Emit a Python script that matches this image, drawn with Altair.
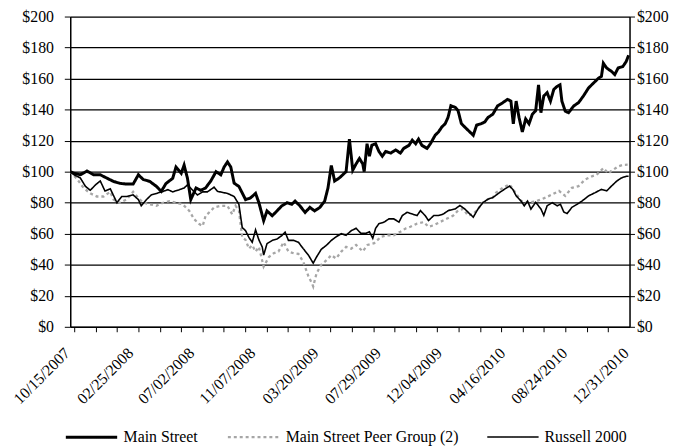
import altair as alt
import pandas as pd

START = "2007-10-15"
series_names = ["Main Street", "Main Street Peer Group (2)", "Russell 2000"]
series_colors = ["#000000", "#a6a6a6", "#000000"]

# day offsets from 10/15/2007 and cumulative value ($100 invested)
ms_day = [0, 8, 21, 35, 49, 63, 77, 91, 104, 118, 132, 143, 153, 167, 181, 191, 201, 215, 222, 233,
          239, 246, 253, 264, 274, 284, 295, 306, 316, 323, 330, 337, 344, 354, 361, 368, 378, 389, 396, 406,
          413, 424, 434, 444, 455, 465, 472, 482, 493, 503, 513, 524, 534, 541, 548, 555, 565, 572, 579, 586,
          593, 600, 607, 614, 617, 623, 628, 633, 641, 648, 655, 662, 673, 683, 693, 700, 711, 718, 725, 731,
          738, 749, 756, 766, 773, 780, 787, 793, 799, 808, 814, 821, 828, 835, 846, 853, 863, 870, 877, 887,
          897, 908, 918, 925, 930, 936, 942, 949, 956, 963, 970, 977, 983, 988, 994, 1001, 1008, 1015, 1022, 1028,
          1032, 1039, 1046, 1057, 1067, 1077, 1088, 1098, 1109, 1115, 1119, 1126, 1136, 1143, 1150, 1160, 1167, 1172]
ms_val = [100, 99, 98, 100.4, 98, 98, 95.8, 93.7, 92.5, 92, 92, 98, 95, 93.7, 90.5, 87.3, 92.4, 95.7, 103, 99,
          104.2, 95.8, 82, 89.5, 88, 89.5, 94, 100, 98, 103, 106.3, 103, 92.6, 90.5, 86.3, 82, 83, 86, 80, 68.4,
          74.7, 71.6, 74.7, 78, 80, 79, 81, 78, 73.7, 77, 74.7, 77, 81, 89.5, 104, 94, 96, 98, 100, 121,
          101, 105, 108.5, 105, 100, 118, 110, 117, 118, 113, 110, 113, 112, 114, 112, 115, 117, 120.3, 118, 121,
          117, 115, 118, 123.5, 125.6, 128.8, 130.9, 135, 142.5, 141.5, 139.4, 131, 128.8, 126.7, 123.5, 130, 131, 132, 135, 137,
          142.4, 144.5, 146.6, 145.5, 130.8, 145.5, 135, 125.6, 134, 130.9, 137, 139.3, 156, 138, 148.8, 150.9, 145.5, 153, 155, 156,
          145.5, 139, 138, 142.4, 144.5, 148.7, 154, 157, 160.3, 161.4, 169.9, 166.8, 164.7, 162.6, 166.8, 167.8, 171, 175]

peer_day = [0, 15, 28, 42, 56, 70, 84, 91, 104, 118, 132, 143, 153, 167, 181, 195, 208, 222, 236, 250,
            260, 271, 278, 284, 295, 302, 316, 330, 340, 347, 354, 361, 368, 375, 382, 389, 396, 406, 417, 427,
            437, 448, 458, 469, 479, 489, 500, 507, 510, 517, 527, 538, 548, 558, 569, 579, 590, 600, 614, 624,
            638, 652, 666, 679, 693, 704, 714, 728, 742, 752, 763, 776, 790, 804, 814, 825, 835, 846, 856, 866,
            877, 887, 894, 908, 922, 932, 946, 963, 980, 998, 1012, 1026, 1039, 1053, 1067, 1081, 1095, 1105, 1119, 1129,
            1140, 1150, 1160, 1170]
peer_val = [100, 95, 89.5, 86, 84, 84, 87, 82, 80, 82, 87, 83, 80, 79, 78, 80, 81, 80, 79, 74.7,
            69.4, 66.2, 65, 71.5, 74.7, 77, 78, 78, 72.5, 78, 75, 57.6, 56, 50.4, 52.6, 48.5, 51.5, 38.8, 45, 47.4,
            48.5, 54.5, 48.5, 47.4, 47, 42, 32.5, 28.3, 26, 34.5, 40, 43, 46.2, 44, 48.5, 51.5, 50.4, 52.8, 48.6, 52.8,
            53.9, 58, 59, 59, 61.3, 63.4, 64.5, 66.5, 67.5, 64.5, 65.5, 67.5, 69.6, 71.7, 75, 76, 71.7, 72.7, 76, 80,
            82.3, 83.3, 86.5, 89.6, 91.8, 87.6, 81.2, 80, 81.2, 83.3, 85.4, 87.6, 84.4, 89.6, 90.7, 95, 97, 98, 102.3, 99,
            101.3, 103.4, 104.4, 104.5]

rut_day = [0, 8, 21, 32, 42, 53, 63, 73, 84, 98, 108, 118, 132, 143, 149, 160, 170, 181, 195, 205,
           215, 229, 239, 246, 257, 267, 278, 288, 302, 309, 330, 344, 354, 361, 368, 375, 382, 389, 396, 403,
           406, 413, 424, 434, 444, 451, 458, 469, 479, 489, 500, 510, 517, 527, 538, 548, 558, 569, 579, 590,
           600, 610, 621, 628, 635, 641, 648, 659, 669, 679, 690, 697, 707, 718, 728, 735, 745, 752, 763, 773,
           783, 794, 808, 818, 828, 839, 846, 856, 866, 877, 887, 901, 911, 922, 929, 936, 946, 953, 960, 967,
           977, 988, 994, 1001, 1012, 1022, 1029, 1036, 1043, 1053, 1064, 1074, 1088, 1102, 1115, 1126, 1136, 1147, 1157, 1167,
           1172]
rut_val = [100, 98, 96, 90.5, 88, 91.5, 94, 87.5, 89, 80, 84, 84, 85, 82, 78, 82, 85, 86, 87.3, 88.4,
           87, 88.4, 89.5, 91.5, 88, 85, 87, 87, 90, 87.3, 86, 84, 79, 64, 62, 57.6, 54.5, 62.5, 56, 51.5,
           46.2, 53.6, 55.7, 56.6, 58.8, 61, 55.7, 55.7, 54.5, 50.4, 46.2, 41, 45, 50, 52.6, 55.7, 58, 60, 59, 62,
           63.5, 60.3, 60.3, 61.3, 57, 63.5, 66.5, 67.5, 69.6, 69.6, 67.5, 71.7, 73.8, 72.7, 71.7, 74.9, 71.7, 68.5, 71.7, 71.7,
           72.7, 75, 76, 78.2, 76, 72.7, 70.7, 76, 80, 82.3, 83.3, 86.5, 88.6, 90.7, 88.6, 84.4, 81.2, 78, 81, 75.9,
           80.2, 76, 71.8, 78, 80, 78, 79, 74, 73, 77, 79, 81, 84.4, 86.5, 88.6, 87.6, 90.7, 93.9, 96, 97,
           97]

label_dates = ["10/15/2007", "02/25/2008", "07/02/2008", "11/07/2008", "03/20/2009",
               "07/29/2009", "12/04/2009", "04/16/2010", "08/24/2010", "12/31/2010"]
tick_days = [8, 53, 98, 143, 188, 233, 277, 322, 367, 412, 457, 501, 546, 591, 636, 681,
             725, 770, 815, 860, 905, 950, 994, 1039, 1084, 1129]
y_ticks = [0, 20, 40, 60, 80, 100, 120, 140, 160, 180, 200]

start = pd.Timestamp(START)


def frame(name, days, vals):
    return pd.DataFrame({"date": start + pd.to_timedelta(days, unit="D"),
                         "value": vals, "series": name})


df = pd.concat([frame(series_names[1], peer_day, peer_val),
                frame(series_names[2], rut_day, rut_val),
                frame(series_names[0], ms_day, ms_val)], ignore_index=True)
df["order"] = df["series"].map({series_names[1]: 0, series_names[2]: 1, series_names[0]: 2})


def dt(ts):
    return alt.DateTime(year=ts.year, month=ts.month, date=ts.day)


label_ts = [pd.Timestamp(pd.to_datetime(d, format="%m/%d/%Y")) for d in label_dates]
tick_ts = [start + pd.Timedelta(days=d) for d in tick_days]

FONT = "Liberation Serif"

# axis with the date labels (no ticks)
x_labels = alt.Axis(
    values=[dt(t) for t in label_ts], format="%m/%d/%Y", orient="bottom",
    ticks=False, domain=False,
    labelAngle=315, labelAlign="right", labelBaseline="top",
    labelOffset=-9, labelPadding=18, labelOverlap=False, labelFlush=False, labelBound=False,
    labelFont=FONT, labelFontSize=16, labelColor="black",
    grid=False, title=None,
)
# axis with the tick marks (no labels)
x_ticks = alt.Axis(
    values=[dt(t) for t in tick_ts], orient="bottom", labels=False,
    tickSize=5, tickColor="black", tickWidth=1,
    domainColor="black", domainWidth=1.5, grid=False, title=None,
)

y_left = alt.Axis(
    values=y_ticks, labelExpr="'$' + datum.value", orient="left",
    grid=True, gridColor="black", gridWidth=1.2,
    tickSize=6, tickColor="black", labelPadding=11,
    labelFont=FONT, labelFontSize=16, labelColor="black",
    domainColor="black", domainWidth=1.5, title=None,
)
y_right = alt.Axis(
    values=y_ticks, labelExpr="'$' + datum.value", orient="right",
    grid=False, tickSize=5, tickColor="black", labelPadding=2,
    labelFont=FONT, labelFontSize=16, labelColor="black",
    domainColor="black", domainWidth=1.5, title=None,
)

x_scale = alt.Scale(domain=[alt.DateTime(year=2007, month=10, date=15),
                            alt.DateTime(year=2011, month=1, date=1)])
y_scale = alt.Scale(domain=[0, 200], nice=False)

lines = alt.Chart(df).mark_line(interpolate="linear").encode(
    x=alt.X("date:T", scale=x_scale, axis=x_labels),
    y=alt.Y("value:Q", scale=y_scale, axis=y_left),
    color=alt.Color("series:N", title=None,
                    scale=alt.Scale(domain=series_names, range=series_colors),
                    legend=alt.Legend(orient="none", legendX=-6, legendY=398,
                                      direction="horizontal", symbolType="stroke",
                                      symbolSize=2700, labelFont=FONT, labelFontSize=16,
                                      labelColor="black", labelOffset=5, columnPadding=24,
                                      labelLimit=400)),
    strokeDash=alt.StrokeDash("series:N", title=None,
                              scale=alt.Scale(domain=series_names,
                                              range=[[1, 0], [3, 3], [1, 0]])),
    strokeWidth=alt.StrokeWidth("series:N", title=None,
                                scale=alt.Scale(domain=series_names, range=[3, 1.6, 1.3])),
    detail="series:N",
    order=alt.Order("order:Q"),
)

right = alt.Chart(df).mark_line(opacity=0).encode(
    x=alt.X("date:T", scale=x_scale, axis=x_ticks),
    y=alt.Y("value:Q", scale=y_scale, axis=y_right),
)

chart = alt.layer(lines, right).resolve_axis(x="independent", y="independent").properties(
    width=566, height=314,
    autosize=alt.AutoSizeParams(type="none"),
    padding={"left": 63, "top": 6, "right": 45, "bottom": 120},
    background="white",
).configure_view(strokeWidth=0).configure(font=FONT)

chart.save("out.html", embed_options={"renderer": "svg", "actions": False})
